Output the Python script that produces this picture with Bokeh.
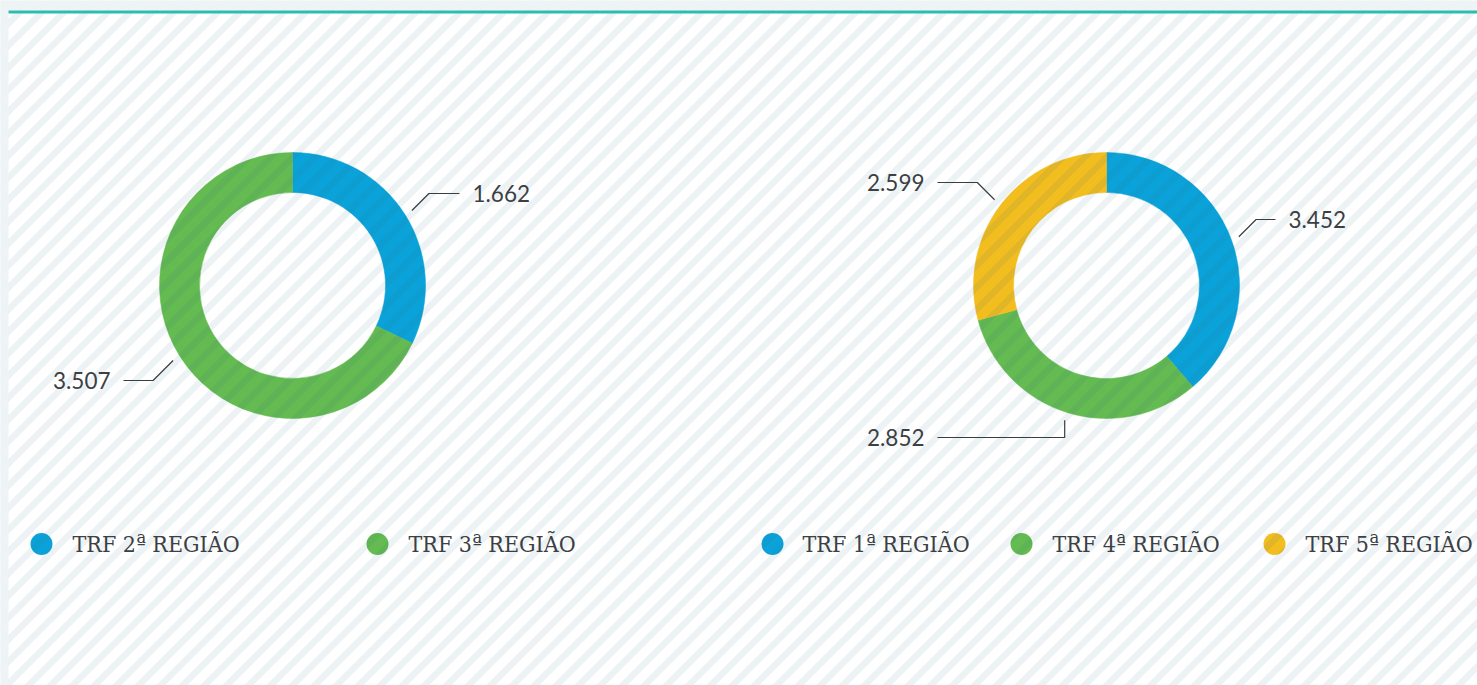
import numpy as np
from bokeh.plotting import figure
from bokeh.models import Range1d
from bokeh.core.properties import value
from bokeh.embed import file_html
from bokeh.resources import INLINE

# ---------------- data ----------------
chart1_names = ["TRF 2ª REGIÃO", "TRF 3ª REGIÃO"]
chart1_values = [1662, 3507]
chart2_names = ["TRF 1ª REGIÃO", "TRF 4ª REGIÃO", "TRF 5ª REGIÃO"]
chart2_values = [3452, 2852, 2599]

BLUE, GREEN, YELLOW = "#0aa2d8", "#64bb51", "#f2bd1f"
chart1_colors = [BLUE, GREEN]
chart2_colors = [BLUE, GREEN, YELLOW]

# ---------------- layout (screen px) ----------------
W, H = 1477, 685
def Y(sy):
    return H - np.asarray(sy, dtype=float)

R_OUT, R_IN = 133, 93
charts = [
    dict(names=chart1_names, values=chart1_values, colors=chart1_colors,
         cx=292, cy=285,
         label_y=[193, 380], text_x=[472, 110], side=[1, -1], slant=[1, 1],
         leg_dot_x=[41, 377], leg_text_x=[72, 408]),
    dict(names=chart2_names, values=chart2_values, colors=chart2_colors,
         cx=1106, cy=285,
         label_y=[219, 437, 182], text_x=[1288, 924, 924], side=[1, -1, -1], slant=[1, 0, 1],
         leg_dot_x=[772, 1021, 1274], leg_text_x=[802, 1052, 1305]),
]
LEG_Y = 543.5

p = figure(width=W, height=H, x_range=Range1d(0, W), y_range=Range1d(0, H),
           output_backend="svg", toolbar_location=None, min_border=0,
           x_axis_location=None, y_axis_location=None)
p.grid.visible = False
p.outline_line_color = None
p.background_fill_color = "white"
p.border_fill_color = "white"

TXT = "#3c3f44"
BG = "#eef3f6"

# donuts + legend markers
for c in charts:
    vals = np.array(c["values"], dtype=float)
    frac = vals / vals.sum()
    cum = np.concatenate([[0], np.cumsum(frac)])
    start = np.pi / 2 - 2 * np.pi * cum[:-1]
    end = np.pi / 2 - 2 * np.pi * cum[1:]
    n = len(vals)
    p.annular_wedge(x=[c["cx"]] * n, y=[float(Y(c["cy"]))] * n,
                    inner_radius=R_IN, outer_radius=R_OUT,
                    start_angle=list(start), end_angle=list(end), direction="clock",
                    fill_color=c["colors"], line_color=c["colors"], line_width=0.5)
    p.scatter(x=c["leg_dot_x"], y=[float(Y(LEG_Y))] * n, size=22, marker="circle",
              fill_color=c["colors"], line_color=None)

# diagonal stripe overlay
period = 22
cs = np.arange(-1700, 900, period)
xs = [[-900, 2500] for _ in cs]
ys = [[-900 + k, 2500 + k] for k in cs]
p.multi_line(xs=xs, ys=ys, line_color="#2b698e", line_alpha=0.085, line_width=6.5)

# page margin band (left, top) and teal rule
p.quad(left=[-5], right=[8], bottom=[-5], top=[H + 5], fill_color=BG, line_color=None)
p.quad(left=[-5], right=[W + 5], bottom=[float(Y(10))], top=[H + 5],
       fill_color=BG, line_color=None)
p.quad(left=[8], right=[W + 5], bottom=[float(Y(13))], top=[float(Y(10))],
       fill_color="#2dbdb0", line_color=None)

# data labels with connectors + legend texts
for c in charts:
    vals = np.array(c["values"], dtype=float)
    frac = vals / vals.sum()
    cum = np.concatenate([[0], np.cumsum(frac)])
    mid = (cum[:-1] + cum[1:]) / 2
    theta = np.pi / 2 - 2 * np.pi * mid
    cyd = float(Y(c["cy"]))
    lxs, lys = [], []
    for i in range(len(vals)):
        sx = c["cx"] + (R_OUT + 8) * np.cos(theta[i])
        sy = cyd + (R_OUT + 8) * np.sin(theta[i])
        ly = float(Y(c["label_y"][i]))
        ex = sx + c["side"][i] * abs(ly - sy) * c["slant"][i]
        tx = c["text_x"][i] - c["side"][i] * 13
        lxs.append([sx, ex, tx])
        lys.append([sy, ly, ly])
    p.multi_line(xs=lxs, ys=lys, line_color="#3a3d42", line_width=1.2)
    labels = [f"{int(v):,}".replace(",", ".") for v in c["values"]]
    for side, align in ((1, "left"), (-1, "right")):
        idx = [i for i in range(len(vals)) if c["side"][i] == side]
        if not idx:
            continue
        p.text(x=[c["text_x"][i] for i in idx],
               y=[float(Y(c["label_y"][i])) for i in idx],
               text=[labels[i] for i in idx],
               text_align=align, text_baseline="middle",
               text_font=value("Lato"), text_font_size="22.5px", text_color=TXT)
    p.text(x=c["leg_text_x"], y=[float(Y(LEG_Y))] * len(vals), text=c["names"],
           text_align="left", text_baseline="middle",
           text_font=value("DejaVu Serif Condensed"), text_font_size="23px", text_color=TXT)

open("out.html", "w").write(file_html(p, INLINE))
